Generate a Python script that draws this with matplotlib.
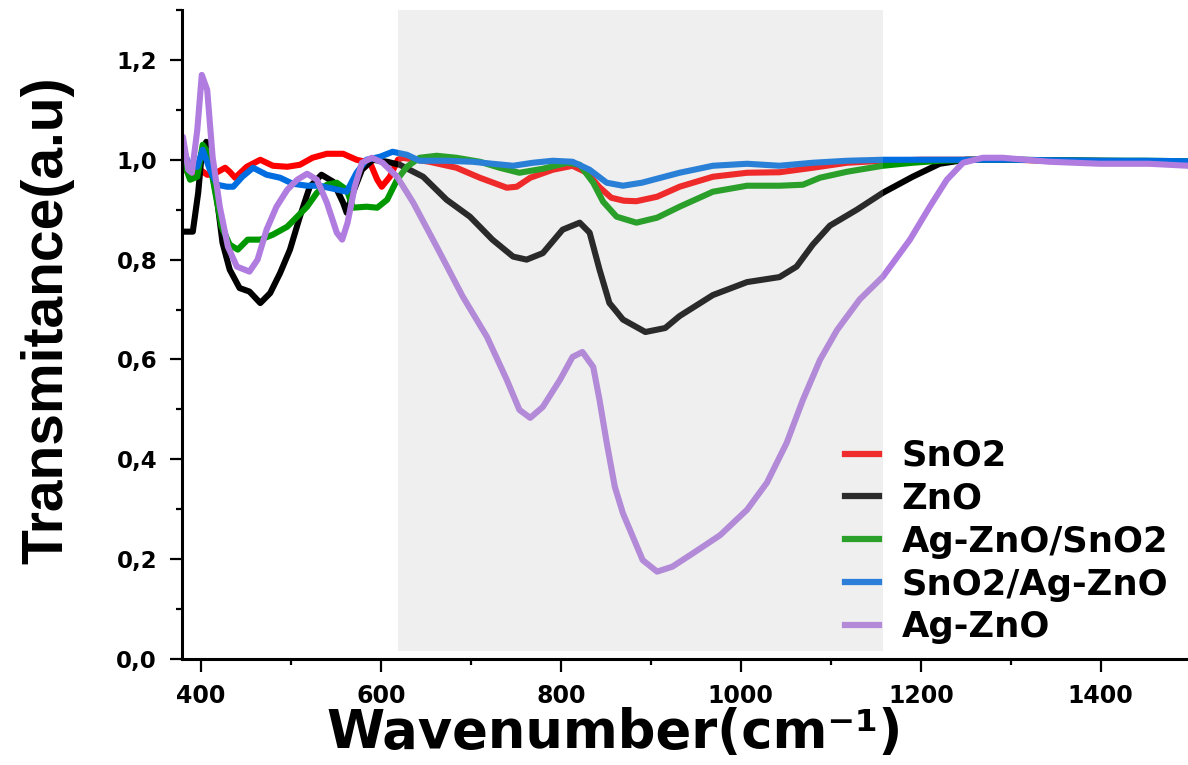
import matplotlib
matplotlib.use("Agg")
import matplotlib.pyplot as plt
from matplotlib.lines import Line2D
from matplotlib.ticker import MultipleLocator, FuncFormatter

# ---------------- data ----------------
labels = ["SnO2", "ZnO", "Ag-ZnO/SnO2", "SnO2/Ag-ZnO", "Ag-ZnO"]

x_sno2 = [380, 388, 399, 407, 413, 427, 432, 438, 451, 466, 480, 496, 510, 524, 540, 558, 573, 588,
          596, 601, 610, 619, 624, 654, 684, 710, 740, 751, 766, 791, 813, 829, 843, 856, 870, 884,
          907, 932, 969, 1007, 1043, 1080, 1118, 1158, 1200, 1250, 1300, 1350, 1400, 1450, 1497]
y_sno2 = [0.986, 0.97, 0.98, 0.97, 0.97, 0.984, 0.976, 0.964, 0.986, 1.0, 0.988, 0.986, 0.99, 1.004,
          1.012, 1.012, 1.0, 0.994, 0.96, 0.946, 0.966, 1.0, 1.004, 0.996, 0.984, 0.964, 0.944, 0.946,
          0.964, 0.98, 0.988, 0.974, 0.945, 0.924, 0.918, 0.917, 0.926, 0.946, 0.966, 0.974, 0.975,
          0.984, 0.994, 0.998, 1.0, 1.0, 1.0, 0.998, 0.997, 0.996, 0.995]

x_zno = [380, 391, 397, 401, 406, 410, 418, 424, 432, 443, 454, 466, 477, 488, 499, 510, 521, 534,
         547, 558, 562, 569, 579, 591, 607, 621, 647, 673, 699, 724, 747, 762, 780, 802, 821, 832,
         843, 854, 860, 869, 894, 916, 932, 969, 1007, 1043, 1062, 1080, 1099, 1129, 1158, 1191, 1221,
         1250, 1300, 1350, 1400, 1450, 1497]
y_zno = [0.856, 0.856, 0.934, 1.014, 1.036, 1.0, 0.92, 0.834, 0.78, 0.743, 0.736, 0.713, 0.733, 0.773,
         0.82, 0.886, 0.946, 0.97, 0.956, 0.914, 0.894, 0.934, 0.98, 1.0, 0.996, 0.99, 0.966, 0.92,
         0.886, 0.84, 0.806, 0.80, 0.813, 0.86, 0.874, 0.854, 0.78, 0.713, 0.70, 0.68, 0.655, 0.663,
         0.687, 0.729, 0.755, 0.765, 0.786, 0.83, 0.868, 0.9, 0.934, 0.966, 0.992, 1.0, 1.0, 0.999,
         0.998, 0.997, 0.996]

x_agzno_sno2 = [380, 388, 396, 402, 408, 416, 423, 432, 441, 452, 466, 480, 496, 507, 518, 529, 540,
                551, 562, 569, 584, 596, 607, 618, 629, 643, 662, 684, 710, 732, 754, 780, 807, 821,
                836, 847, 862, 884, 907, 932, 969, 1007, 1043, 1069, 1088, 1118, 1158, 1191, 1221,
                1260, 1300, 1350, 1400, 1450, 1497]
y_agzno_sno2 = [1.0, 0.96, 0.966, 1.03, 1.014, 0.934, 0.866, 0.83, 0.82, 0.84, 0.84, 0.85, 0.866,
                0.886, 0.906, 0.934, 0.95, 0.954, 0.94, 0.904, 0.906, 0.904, 0.92, 0.96, 0.986, 1.004,
                1.008, 1.004, 0.996, 0.984, 0.974, 0.982, 0.994, 0.99, 0.954, 0.916, 0.886, 0.874,
                0.884, 0.906, 0.936, 0.948, 0.948, 0.95, 0.964, 0.976, 0.988, 0.994, 0.998, 1.0, 1.0,
                0.999, 0.998, 0.998, 0.997]

x_sno2_agzno = [380, 388, 396, 402, 410, 418, 429, 436, 446, 458, 473, 488, 502, 518, 532, 547, 562,
                573, 584, 599, 613, 629, 643, 673, 702, 724, 747, 769, 791, 813, 832, 851, 869, 890,
                932, 969, 1007, 1043, 1080, 1118, 1158, 1200, 1250, 1300, 1350, 1400, 1450, 1497]
y_sno2_agzno = [1.02, 0.986, 0.986, 1.02, 0.98, 0.95, 0.946, 0.946, 0.966, 0.984, 0.97, 0.964, 0.952,
                0.948, 0.948, 0.942, 0.936, 0.974, 1.0, 1.006, 1.016, 1.01, 0.998, 0.998, 0.996, 0.992,
                0.988, 0.994, 0.998, 0.996, 0.98, 0.954, 0.948, 0.954, 0.974, 0.988, 0.992, 0.988,
                0.994, 0.998, 1.0, 1.0, 1.0, 1.0, 0.999, 0.998, 0.998, 0.997]

x_agzno = [380, 386, 390, 396, 401, 407, 413, 421, 430, 440, 454, 463, 473, 484, 496, 507, 518, 529,
           540, 551, 557, 563, 571, 579, 590, 602, 618, 636, 662, 691, 718, 740, 754, 766, 780, 799,
           813, 824, 836, 843, 851, 860, 869, 880, 891, 907, 924, 947, 977, 1007, 1029, 1051, 1069,
           1088, 1107, 1132, 1158, 1188, 1210, 1229, 1247, 1269, 1291, 1343, 1399, 1454, 1497]
y_agzno = [1.046, 0.98, 0.974, 1.06, 1.17, 1.14, 1.006, 0.906, 0.826, 0.786, 0.776, 0.80, 0.86, 0.906,
           0.94, 0.96, 0.972, 0.96, 0.914, 0.854, 0.84, 0.874, 0.946, 0.994, 1.004, 0.994, 0.966,
           0.914, 0.826, 0.726, 0.645, 0.559, 0.499, 0.483, 0.505, 0.559, 0.605, 0.615, 0.585, 0.519,
           0.433, 0.345, 0.292, 0.245, 0.198, 0.175, 0.185, 0.212, 0.248, 0.299, 0.353, 0.433, 0.519,
           0.599, 0.659, 0.72, 0.766, 0.84, 0.906, 0.96, 0.994, 1.004, 1.004, 0.996, 0.992, 0.992,
           0.988]

xticks = [400, 600, 800, 1000, 1200, 1400]
yticks = [0.0, 0.2, 0.4, 0.6, 0.8, 1.0, 1.2]
shade_range = (619, 1158)

# ---------------- style ----------------
colors = ["#ff0000", "#000000", "#009800", "#006ee1", "#b07ce0"]
overlay_rgb = (186, 186, 186)
overlay_alpha = 0.23


def blend(hexcol):
    r, g, b = int(hexcol[1:3], 16), int(hexcol[3:5], 16), int(hexcol[5:7], 16)
    out = [c * (1 - overlay_alpha) + o * overlay_alpha for c, o in zip((r, g, b), overlay_rgb)]
    return tuple(v / 255 for v in out)


W, H = 1188, 765
fig = plt.figure(figsize=(W / 100, H / 100), dpi=100)
ax = fig.add_axes([182 / W, (H - 659) / H, (W - 182) / W, (659 - 10) / H])

series = [(x_sno2, y_sno2), (x_zno, y_zno), (x_agzno_sno2, y_agzno_sno2),
          (x_sno2_agzno, y_sno2_agzno), (x_agzno, y_agzno)]
for (xs, ys), col in zip(series, colors):
    ax.plot(xs, ys, color=col, lw=4.4, solid_joinstyle="round", solid_capstyle="round",
            zorder=2, clip_on=True)

ax.axvspan(shade_range[0], shade_range[1], ymin=0.012, ymax=1.0,
           color=tuple(v / 255 for v in overlay_rgb), alpha=overlay_alpha, lw=0, zorder=3)

ax.set_xlim(379, 1497)
ax.set_ylim(0, 1.3)

for s in ["top", "right"]:
    ax.spines[s].set_visible(False)
for s in ["left", "bottom"]:
    ax.spines[s].set_linewidth(2.2)

ax.set_xticks(xticks)
ax.set_yticks(yticks)
ax.xaxis.set_minor_locator(MultipleLocator(100))
ax.yaxis.set_minor_locator(MultipleLocator(0.1))
ax.yaxis.set_major_formatter(FuncFormatter(lambda v, p: f"{v:.1f}".replace(".", ",")))
ax.tick_params(which="major", length=9, width=1.6, direction="out", pad=9)
ax.tick_params(which="minor", length=4.5, width=1.6, direction="out")
for lab in ax.get_xticklabels():
    lab.set_fontfamily("DejaVu Sans")
    lab.set_fontweight("bold")
    lab.set_fontsize(17)
for lab in ax.get_yticklabels():
    lab.set_fontfamily("DejaVu Sans")
    lab.set_fontweight("bold")
    lab.set_fontsize(16.5)

ax.set_xlabel("Wavenumber(cm\u207b\u00b9)", fontfamily="DejaVu Sans", fontweight="bold",
              fontsize=38)
ax.xaxis.set_label_coords(0.43, -0.074)
ax.set_ylabel("Transmitance(a.u)", fontfamily="Liberation Sans", fontweight="bold", fontsize=41)
ax.yaxis.set_label_coords(-0.107, 0.522)

handles = [Line2D([0], [0], color=blend(c), lw=4.5) for c in colors]
leg = ax.legend(handles, labels, loc="upper left", bbox_to_anchor=(845 / W, 1 - 439 / H),
                bbox_transform=fig.transFigure, frameon=False, borderpad=0, borderaxespad=0,
                handlelength=0.95, handletextpad=0.65, labelspacing=0.25,
                prop={"family": "DejaVu Sans", "weight": "bold", "size": 25.5})
leg.set_zorder(5)

fig.savefig("out.png", dpi=100)
